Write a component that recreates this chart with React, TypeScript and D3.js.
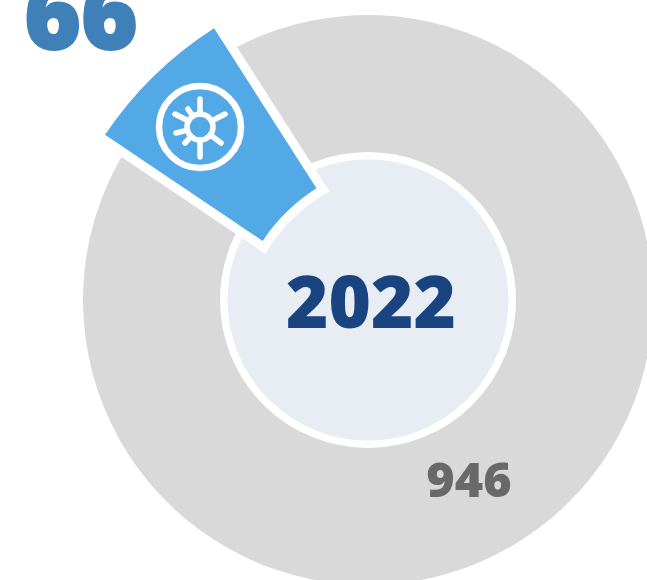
import * as d3 from "d3";

const categories = ["Other", "Highlighted"];
const values = [946, 66];
const year = "2022";

const colors = ["#d9d9d9", "#53a9e6"];
const labelColors = ["#696969", "#3f80b8"];

// basic attributes
const width = 647;
const height = 580;
const cx = 368;
const cy = 300;
const innerRadius = 140.5;
const outerRadius = 285;
const startAngle = (-32.6 * Math.PI) / 180;

// the highlighted slice is pulled out and blown up
const popScale = 1.315;
const popX = 48;
const popY = 44;
const ringStroke = 14;

// icon rays, from the sun's edge outward: [dx, dy]
const rays = [
  [0, -28],
  [0, 30],
  [25, -13],
  [-25, -13],
  [-24, 6],
  [21, 16],
  [-12, -18],
  [-15, 16],
];

const font = "'Open Sans', sans-serif";

export default function App() {
  const pie = d3
    .pie<number>()
    .sort(null)
    .startAngle(startAngle)
    .endAngle(startAngle + 2 * Math.PI);
  const arcs = pie(values);
  const arc = d3.arc<d3.PieArcDatum<number>>().innerRadius(innerRadius).outerRadius(outerRadius);

  const sunR = 13;
  const iconX = 200;
  const iconY = 127;

  return (
    <svg
      width={width}
      height={height}
      style={{ position: "absolute", left: 0, top: 0, background: "#fff" }}
    >
      <g transform={`translate(${cx},${cy})`}>
        <path d={arc(arcs[0]) ?? ""} fill={colors[0]} />
        <circle r={innerRadius + 3.75} fill="#e8edf4" stroke="#fff" strokeWidth={7.5} />
      </g>

      <g transform={`translate(${cx + popX},${cy + popY}) scale(${popScale})`}>
        <path d={arc(arcs[1]) ?? ""} fill="none" stroke="#fff" strokeWidth={ringStroke} strokeLinejoin="miter" />
        <path d={arc(arcs[1]) ?? ""} fill={colors[1]} />
      </g>

      <g transform={`translate(${iconX},${iconY})`} fill="none" stroke="#fff" strokeLinecap="round">
        <circle r={41} strokeWidth={6.5} />
        <circle r={sunR} strokeWidth={5.5} />
        {rays.map(([dx, dy], i) => {
          const len = Math.hypot(dx, dy);
          return (
            <line
              key={i}
              x1={(dx / len) * sunR}
              y1={(dy / len) * sunR}
              x2={dx}
              y2={dy}
              strokeWidth={5.5}
            />
          );
        })}
      </g>

      <text x={371} y={328} textAnchor="middle" fontFamily={font} fontWeight={800} fontSize={72.5} fill="#1a4480">
        {year}
      </text>
      <text x={469} y={497} textAnchor="middle" fontFamily={font} fontWeight={800} fontSize={48.5} fill={labelColors[0]}>
        {values[0]}
      </text>
      <text
        x={81}
        y={49}
        textAnchor="middle"
        fontFamily={font}
        fontWeight={800}
        fontSize={97}
        fill={labelColors[1]}
        stroke={labelColors[1]}
        strokeWidth={2}
      >
        {values[1]}
      </text>
      <title>{categories.join(", ")}</title>
    </svg>
  );
}
